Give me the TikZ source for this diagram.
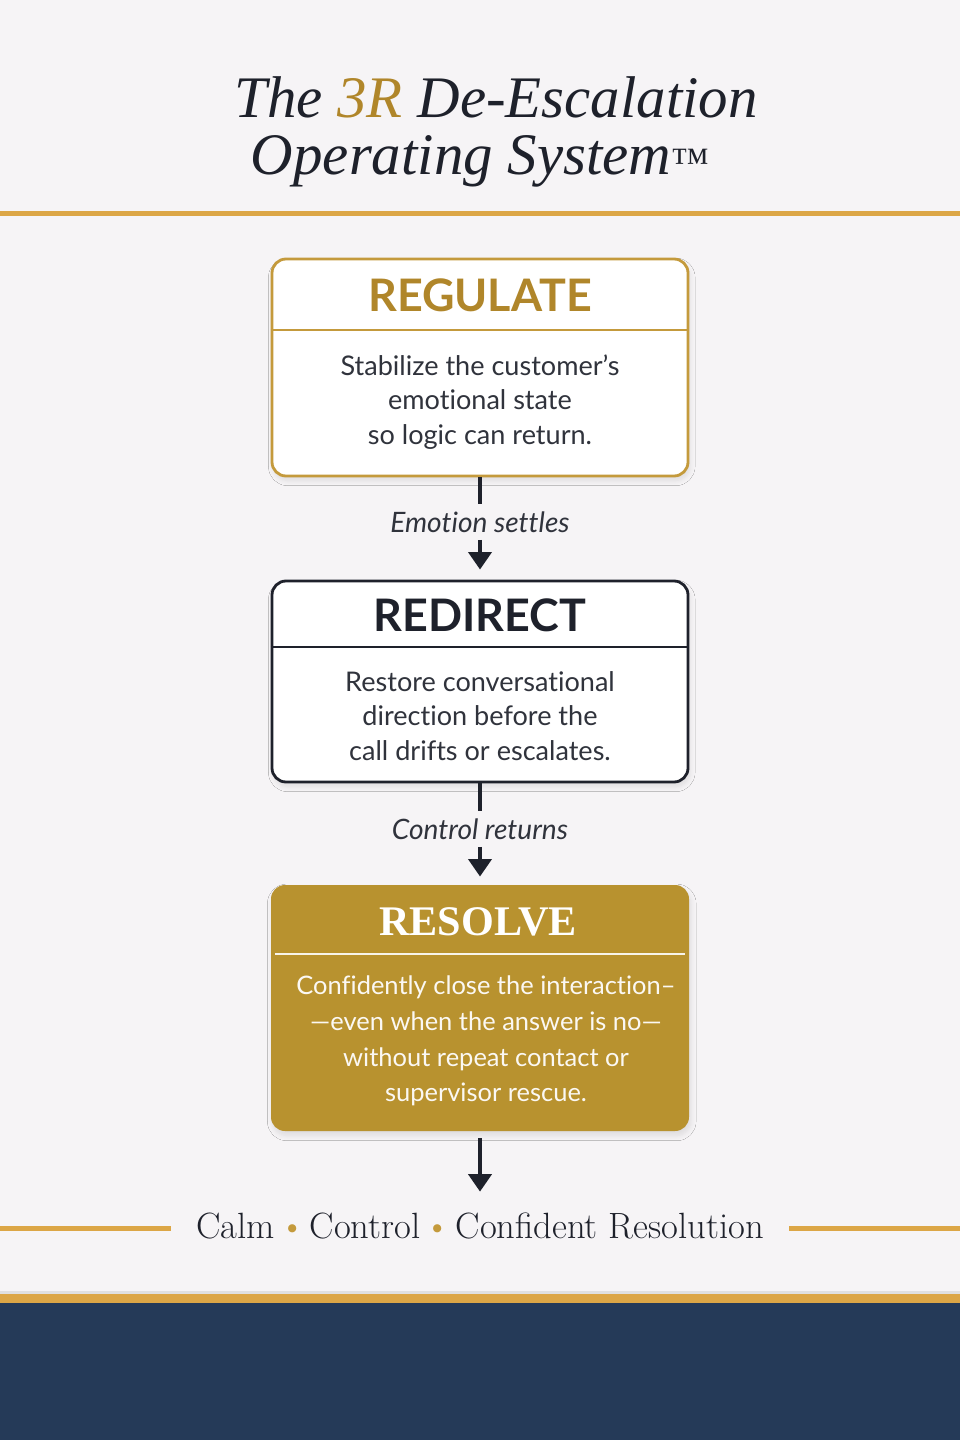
\documentclass[tikz,border=0pt]{standalone}
\usepackage{fontspec}
\newfontfamily\boxfont{Lato}[Ligatures=NoCommon]
\newfontfamily\plaqfont{Liberation Serif}
\usetikzlibrary{arrows.meta, positioning, shadows.blur}

\definecolor{paper}{HTML}{F6F4F6}
\definecolor{gold}{HTML}{C49A3C}
\definecolor{goldtext}{HTML}{B0862A}
\definecolor{goldfill}{HTML}{B8922F}
\definecolor{goldline}{HTML}{DCA646}
\definecolor{ink}{HTML}{1E212B}
\definecolor{bodyink}{HTML}{30333C}
\definecolor{navy}{HTML}{253A58}

\newcommand{\golddot}{\hspace{0.12em}{\color{gold}\textbullet}\hspace{0.12em}}

\tikzset{
  stage/.style = {
    rectangle, rounded corners=2.8mm, minimum width=83.2mm,
    line width=1.6pt, fill=white,
    blur shadow={shadow xshift=1pt, shadow yshift=-2.5pt, shadow opacity=10, shadow blur radius=3pt, shadow blur steps=6}
  },
  stagetitle/.style = {anchor=base, font=\boxfont\bfseries\fontsize{25.5}{30}\selectfont},
  stagebody/.style = {align=center, text=bodyink, font=\boxfont\fontsize{15.4}{19.6}\selectfont},
  cue/.style = {text=bodyink, inner sep=1.4mm, font=\boxfont\itshape\fontsize{16}{18}\selectfont},
  flow/.style = {line width=2.8pt, draw=ink},
  flowarrow/.style = {flow, -{Triangle[width=13pt, length=10pt]}}
}

\begin{document}
\begin{tikzpicture}[x=0.2mm, y=-0.2mm]

  % Page
  \useasboundingbox (0,0) rectangle (960,1440);
  \fill[paper] (0,0) rectangle (960,1440);

  % Title
  \node[anchor=base, text=ink, font=\plaqfont\itshape\fontsize{33.5}{38}\selectfont] (titleA) at (496,118)
    {The {\color{goldtext}3R} De-Escalation};
  \node[anchor=base, text=ink, font=\plaqfont\itshape\fontsize{33.5}{38}\selectfont] (titleB) at (480,175)
    {Operating System{\upshape\fontsize{22}{22}\selectfont ™}};
  \draw[goldline, line width=1mm] (0,214) -- (960,214);

  % Regulate
  \node[stage, draw=gold, minimum height=43.4mm] (reg) at (480,367.5) {};
  \draw[gold, line width=1.6pt] (reg.west |- 0,330) -- (reg.east |- 0,330);
  \node[stagetitle, text=goldtext] (regT) at (480,312) {REGULATE};
  \node[stagebody] (regB) at (480,402)
    {Stabilize the customer’s\\ emotional state\\ so logic can return.};

  % Redirect
  \node[stage, draw=ink, minimum height=40.2mm] (red) at (480,681.5) {};
  \draw[ink, line width=1.6pt] (red.west |- 0,647) -- (red.east |- 0,647);
  \node[stagetitle, text=ink] (redT) at (480,631) {REDIRECT};
  \node[stagebody] (redB) at (480,716)
    {Restore conversational\\ direction before the\\ call drifts or escalates.};

  % Resolve
  \node[stage, fill=goldfill, minimum width=83.6mm, minimum height=49.2mm] (res) at (480,1008) {};
  \draw[white!90!goldfill, line width=1.2pt] (275,954) -- (685,954);
  \node[anchor=base, text=white, font=\plaqfont\bfseries\fontsize{24}{28}\selectfont] (resT) at (478,935) {RESOLVE};
  \node[stagebody, text=white!94!goldfill, font=\boxfont\fontsize{14.5}{20.4}\selectfont] (resB) at (486,1041)
    {Confidently close the interaction–\\ —even when the answer is no—\\ without repeat contact or\\ supervisor rescue.};

  % Cues between the stages
  \node[cue] (cueA) at (480,522) {Emotion settles};
  \node[cue] (cueB) at (480,829) {Control returns};
  \draw[flow] (reg.south) -- (cueA.north);
  \draw[flowarrow, shorten >=2mm] (cueA.south) -- (red.north);
  \draw[flow] (red.south) -- (cueB.north);
  \draw[flowarrow, shorten >=1.4mm] (cueB.south) -- (res.north);

  % Tagline
  \node[text=ink, font=\fontsize{20.8}{24}\selectfont] (tag) at (480,1226)
    {Calm\golddot Control\golddot Confident Resolution};
  \draw[flowarrow, shorten <=1.2mm, shorten >=3mm] (res.south) -- (tag.north);
  \draw[goldline, line width=1mm] (0,1228) -- (171,1228);
  \draw[goldline, line width=1mm] (789,1228) -- (960,1228);

  % Footer band
  \fill[black!12] (0,1291) rectangle (960,1295);
  \fill[goldline] (0,1294) rectangle (960,1303);
  \fill[navy] (0,1303) rectangle (960,1440);

\end{tikzpicture}
\end{document}
